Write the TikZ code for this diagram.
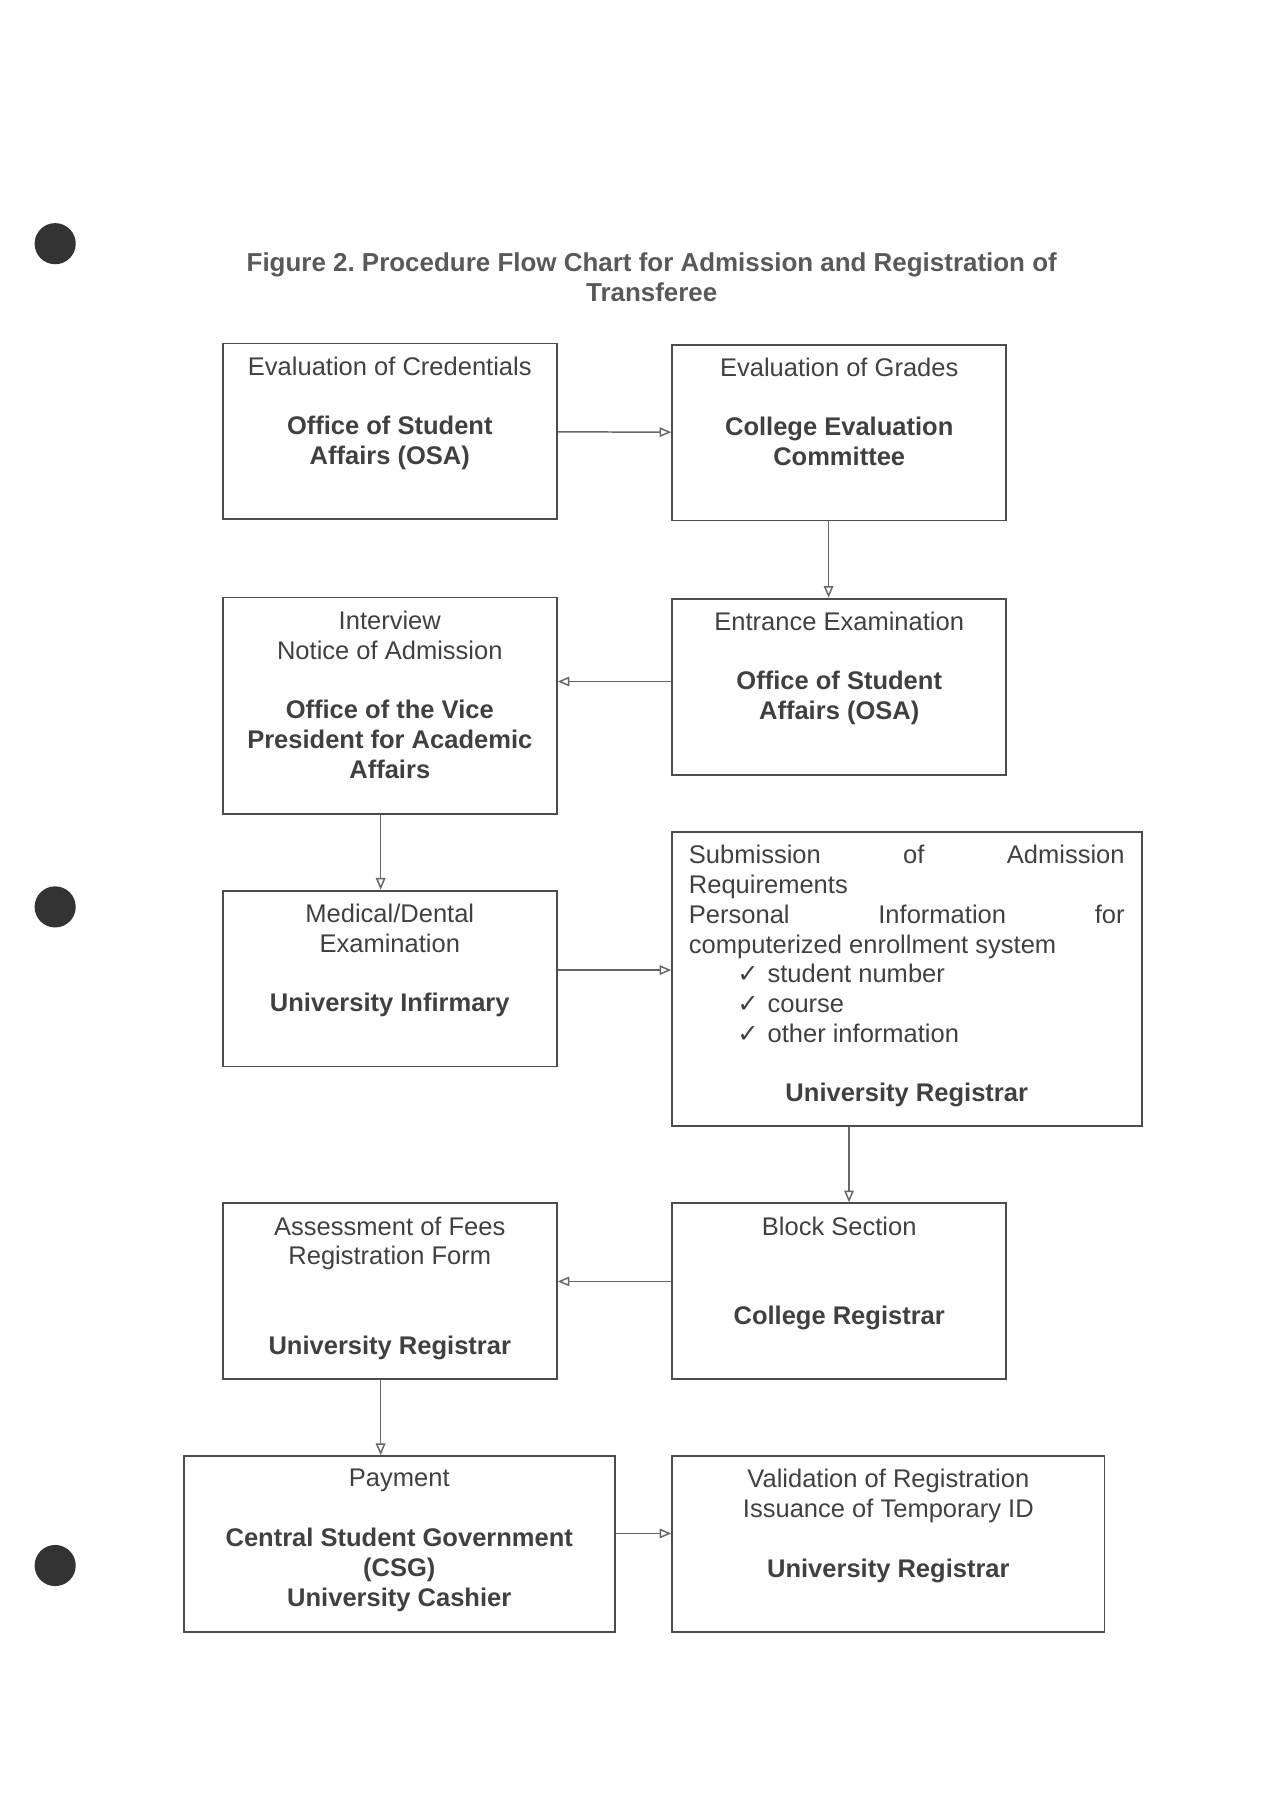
\documentclass[tikz,border=0pt]{standalone}
\usepackage{fontspec}
\setmainfont{Liberation Sans}
\newfontfamily\tickfont{DejaVu Sans}
\usetikzlibrary{arrows.meta, calc}
\frenchspacing

\newcommand{\tickitem}[1]{\makebox[7.2cm][l]{\hspace*{0.8cm}\makebox[0.5cm][l]{\tickfont ✓}#1}}

\begin{document}
\begin{tikzpicture}[x=0.019cm, y=-0.019cm,
    >={Triangle[open, length=5.5pt, width=4.5pt]},
    box/.style={draw=black!70, line width=0.9pt, anchor=north west, inner sep=0pt,
      minimum width=5.52cm, minimum height=2.907cm},
    txt/.style={anchor=north, inner sep=0pt, align=center, text=black!75,
      font=\fontsize{12}{14}\selectfont},
    flow/.style={->, draw=black!60, line width=0.7pt}]
  \useasboundingbox (0,0) rectangle (1104,1566);

  % punch holes
  \fill[black!80] (48,212) circle [radius=0.34cm];
  \fill[black!80] (48,789) circle [radius=0.34cm];
  \fill[black!80] (48,1362) circle [radius=0.34cm];

  \node[txt, anchor=center, text=black!65, font=\fontsize{12.2}{14}\selectfont\bfseries] (head) at (567,241)
    {Figure 2. Procedure Flow Chart for Admission and Registration of\\ Transferee};

  % boxes
  \node[box] (cred) at (193,298) {};
  \node[box] (grades) at (584,299) {};
  \node[box] (exam) at (584,520) {};
  \node[box, minimum height=3.572cm] (interview) at (193,519) {};
  \node[box] (medical) at (193,774) {};
  \node[box, minimum width=7.771cm, minimum height=4.864cm] (submit) at (584,723) {};
  \node[box] (block) at (584,1046) {};
  \node[box] (assess) at (193,1046) {};
  \node[box, minimum width=7.125cm] (pay) at (159,1266) {};
  \node[box, minimum width=7.144cm] (valid) at (584,1266) {};

  % texts
  \node[txt] (credt) at ($(cred.north)+(0,12)$) {Evaluation of Credentials\\[14pt]
    \textbf{Office of Student}\\ \textbf{Affairs (OSA)}};
  \node[txt] (gradest) at ($(grades.north)+(0,12)$) {Evaluation of Grades\\[14pt]
    \textbf{College Evaluation}\\ \textbf{Committee}};
  \node[txt] (examt) at ($(exam.north)+(0,12)$) {Entrance Examination\\[14pt]
    \textbf{Office of Student}\\ \textbf{Affairs (OSA)}};
  \node[txt] (interviewt) at ($(interview.north)+(0,12)$) {Interview\\ Notice of Admission\\[14pt]
    \textbf{Office of the Vice}\\ \textbf{President for Academic}\\ \textbf{Affairs}};
  \node[txt] (medicalt) at ($(medical.north)+(0,12)$) {Medical/Dental\\ Examination\\[14pt]
    \textbf{University Infirmary}};
  \node[txt, anchor=north west, align=left] (submitt) at ($(submit.north west)+(15,12)$)
    {\makebox[7.2cm][s]{Submission of Admission}\\
     Requirements\\
     \makebox[7.2cm][s]{Personal Information for}\\
     computerized enrollment system\\
     \tickitem{student number}\\
     \tickitem{course}\\
     \tickitem{other information}\\[14pt]
     \makebox[7.2cm]{\bfseries University Registrar}};
  \node[txt] (blockt) at ($(block.north)+(0,12)$) {Block Section\\[28pt]
    \textbf{College Registrar}};
  \node[txt] (assesst) at ($(assess.north)+(0,12)$) {Assessment of Fees\\ Registration Form\\[28pt]
    \textbf{University Registrar}};
  \node[txt] (payt) at ($(pay.north)+(0,12)$) {Payment\\[14pt]
    \textbf{Central Student Government}\\ \textbf{(CSG)}\\ \textbf{University Cashier}};
  \node[txt] (validt) at ($(valid.north)+(0,12)$) {Validation of Registration\\ Issuance of Temporary ID\\[14pt]
    \textbf{University Registrar}};

  % connectors
  \draw[flow] (cred) -- (grades);
  \draw[flow] ([xshift=-5pt]grades.south) -- ([xshift=-5pt]exam.north);
  \draw[flow] ([yshift=2.4pt]exam.west) coordinate (e1) -- (e1 -| interview.east);
  \draw[flow] ([xshift=-4.3pt]interview.south) -- ([xshift=-4.3pt]medical.north);
  \draw[flow] ([yshift=4pt]medical.east) coordinate (m1) -- (m1 -| submit.west);
  \draw[flow] ([xshift=4.6pt]block.north |- submit.south) -- ([xshift=4.6pt]block.north);
  \draw[flow] ([yshift=4.6pt]block.west) coordinate (b1) -- (b1 -| assess.east);
  \draw[flow] ([xshift=-4.3pt]assess.south) coordinate (a1) -- (a1 |- pay.north);
  \draw[flow] ([yshift=5pt]pay.east) coordinate (p1) -- (p1 -| valid.west);
\end{tikzpicture}
\end{document}
